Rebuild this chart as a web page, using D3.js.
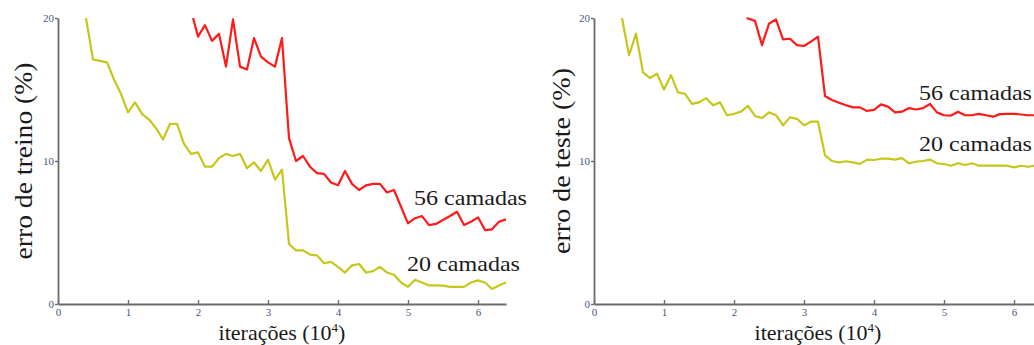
<!DOCTYPE html>
<html>
<head>
<meta charset="utf-8">
<script src="https://cdn.jsdelivr.net/npm/d3@7"></script>
<style>
  html, body { margin: 0; padding: 0; background: #fff; }
  svg { display: block; }
  text { font-family: "Liberation Serif", "Times New Roman", serif; }
</style>
</head>
<body>
<svg id="chart" width="1034" height="345"></svg>
<script>
// ---------- data ----------
const xTicks = [0, 1, 2, 3, 4, 5, 6];
const yTicks = [0, 10, 20];

// Training error (left)
const trainX20 = [0.4,0.5,0.6,0.7,0.8,0.9,1.0,1.1,1.2,1.3,1.4,1.5,1.6,1.7,1.8,1.9,2.0,2.1,2.2,2.3,2.4,2.5,2.6,2.7,2.8,2.9,3.0,3.1,3.2,3.3,3.4,3.5,3.6,3.7,3.8,3.9,4.0,4.1,4.2,4.3,4.4,4.5,4.6,4.7,4.8,4.9,5.0,5.1,5.2,5.3,5.4,5.5,5.6,5.7,5.8,5.9,6.0,6.1,6.2,6.3,6.4];
const trainY20 = [20.0,17.1,17.0,16.9,15.7,14.7,13.4,14.1,13.3,12.9,12.3,11.5,12.6,12.6,11.2,10.5,10.6,9.6,9.6,10.2,10.5,10.35,10.5,9.5,9.9,9.3,10.1,8.7,9.4,4.2,3.75,3.75,3.45,3.4,2.85,2.95,2.6,2.2,2.7,2.8,2.2,2.3,2.6,2.2,2.05,1.5,1.2,1.7,1.5,1.3,1.3,1.28,1.2,1.2,1.2,1.5,1.65,1.5,1.05,1.3,1.5];

const trainX56 = [1.93,2.0,2.1,2.2,2.3,2.4,2.5,2.6,2.7,2.8,2.9,3.0,3.1,3.2,3.3,3.4,3.5,3.6,3.7,3.8,3.9,4.0,4.1,4.2,4.3,4.4,4.5,4.6,4.7,4.8,4.9,5.0,5.1,5.2,5.3,5.4,5.5,5.6,5.7,5.8,5.9,6.0,6.1,6.2,6.3,6.4];
const trainY56 = [20.0,18.7,19.5,18.4,18.9,16.6,19.9,16.6,16.4,18.6,17.3,16.9,16.6,18.6,11.6,10.0,10.35,9.6,9.15,9.1,8.5,8.3,9.3,8.4,7.97,8.3,8.4,8.4,7.8,7.97,6.8,5.64,6.0,6.15,5.52,5.6,5.87,6.15,6.45,5.52,5.75,6.06,5.17,5.22,5.75,5.92];

// Test error (right)
const testX20 = [0.4,0.5,0.6,0.7,0.8,0.9,1.0,1.1,1.2,1.3,1.4,1.5,1.6,1.7,1.8,1.9,2.0,2.1,2.2,2.3,2.4,2.5,2.6,2.7,2.8,2.9,3.0,3.1,3.2,3.3,3.4,3.5,3.6,3.7,3.8,3.9,4.0,4.1,4.2,4.3,4.4,4.5,4.6,4.7,4.8,4.9,5.0,5.1,5.2,5.3,5.4,5.5,5.6,5.7,5.8,5.9,6.0,6.1,6.2,6.3,6.4];
const testY20 = [20.0,17.4,18.9,16.2,15.8,16.1,15.0,16.0,14.8,14.7,14.0,14.1,14.4,13.9,14.1,13.2,13.3,13.45,13.85,13.15,13.0,13.4,13.2,12.5,13.05,12.95,12.5,12.75,12.75,10.4,10.0,9.9,9.98,9.9,9.8,10.1,10.07,10.16,10.16,10.1,10.2,9.84,9.95,10.0,10.1,9.84,9.79,9.67,9.84,9.72,9.84,9.67,9.67,9.67,9.67,9.67,9.55,9.67,9.6,9.67,9.7];

const testX56 = [2.18,2.3,2.4,2.5,2.6,2.7,2.8,2.9,3.0,3.1,3.2,3.3,3.4,3.5,3.6,3.7,3.8,3.9,4.0,4.1,4.2,4.3,4.4,4.5,4.6,4.7,4.8,4.9,5.0,5.1,5.2,5.3,5.4,5.5,5.6,5.7,5.8,5.9,6.0,6.1,6.2,6.3,6.4];
const testY56 = [20.0,19.8,18.1,19.6,19.9,18.5,18.55,18.1,18.04,18.35,18.7,14.55,14.27,14.08,13.9,13.75,13.75,13.5,13.57,13.96,13.8,13.4,13.45,13.7,13.6,13.7,13.99,13.4,13.2,13.18,13.45,13.2,13.2,13.3,13.2,13.1,13.28,13.3,13.3,13.25,13.2,13.2,13.2];

const seriesNames = ["56 camadas", "20 camadas"];
const yLabels = ["erro de treino (%)", "erro de teste (%)"];
const xLabelMain = "iterações (10";
const xLabelSup = "4";

// ---------- drawing ----------
const svg = d3.select("#chart");
const colRed = "#ff1a1a";
const colYel = "#c6c61c";
const axisCol = "#6a6a6a";
const tickTextCol = "#44587e";

function panel(opt) {
  const x = d3.scaleLinear().domain([0, 6.4]).range([opt.x0, opt.x0 + 448]);
  const y = d3.scaleLinear().domain([0, 20]).range([304, 18]);
  const g = svg.append("g");

  // axes
  const xa = g.append("g").attr("transform", "translate(0,304)")
    .call(d3.axisBottom(x).tickValues(xTicks).tickFormat(d3.format("d"))
      .tickSizeInner(-4).tickSizeOuter(0).tickPadding(4));
  const ya = g.append("g").attr("transform", `translate(${opt.x0},0)`)
    .call(d3.axisLeft(y).tickValues(yTicks).tickFormat(d3.format("d"))
      .tickSizeInner(3).tickSizeOuter(0).tickPadding(1));
  [xa, ya].forEach(a => {
    a.attr("font-family", null);
    a.select(".domain").attr("stroke", axisCol).attr("stroke-width", 1.8);
    a.selectAll(".tick line").attr("stroke", axisCol).attr("stroke-width", 1.4);
    a.selectAll(".tick text").attr("fill", tickTextCol).attr("font-size", 11);
  });

  const line = d3.line().x(d => x(d[0])).y(d => y(d[1]));
  const mk = (xs, ys) => xs.map((v, i) => [v, ys[i]]);

  g.append("path").datum(mk(opt.x20, opt.y20)).attr("d", line)
    .attr("fill", "none").attr("stroke", colYel).attr("stroke-width", 2.2)
    .attr("stroke-linejoin", "round");
  g.append("path").datum(mk(opt.x56, opt.y56)).attr("d", line)
    .attr("fill", "none").attr("stroke", colRed).attr("stroke-width", 2.2)
    .attr("stroke-linejoin", "round");

  // series labels
  g.append("text").attr("x", opt.lab56[0]).attr("y", opt.lab56[1])
    .attr("font-size", 21).attr("fill", "#1a1a1a")
    .attr("textLength", 113).attr("lengthAdjust", "spacingAndGlyphs")
    .text(seriesNames[0]);
  g.append("text").attr("x", opt.lab20[0]).attr("y", opt.lab20[1])
    .attr("font-size", 21).attr("fill", "#1a1a1a")
    .attr("textLength", 113).attr("lengthAdjust", "spacingAndGlyphs")
    .text(seriesNames[1]);

  // y label
  g.append("text")
    .attr("transform", `translate(${opt.yLabX},161) rotate(-90)`)
    .attr("text-anchor", "middle").attr("dominant-baseline", "central")
    .attr("font-size", 26).attr("fill", "#1a1a1a")
    .attr("textLength", opt.yLabLen).attr("lengthAdjust", "spacingAndGlyphs")
    .text(opt.yLabel);

  // x label
  const xl = g.append("text").attr("x", x(3.2)).attr("y", 340)
    .attr("text-anchor", "middle").attr("font-size", 22).attr("fill", "#1a1a1a");
  xl.append("tspan").text(xLabelMain);
  xl.append("tspan").attr("font-size", 13).attr("dy", -8).text(xLabelSup);
  xl.append("tspan").attr("dy", 8).text(")");
}

panel({ x0: 58, x20: trainX20, y20: trainY20, x56: trainX56, y56: trainY56,
  lab56: [414, 205], lab20: [407, 271], yLabX: 23, yLabLen: 197, yLabel: yLabels[0] });
panel({ x0: 594, x20: testX20, y20: testY20, x56: testX56, y56: testY56,
  lab56: [919, 100], lab20: [919, 151], yLabX: 561, yLabLen: 186, yLabel: yLabels[1] });
</script>
</body>
</html>
